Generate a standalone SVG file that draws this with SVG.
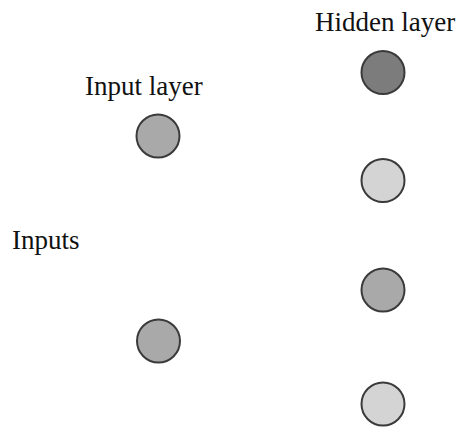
<svg xmlns="http://www.w3.org/2000/svg" width="462" height="428" viewBox="0 0 462 428">
<style>
text{font-family:"Liberation Serif","Times New Roman",serif;font-size:27px;fill:#111}
.n{stroke:#3a3a3a;stroke-width:2}
.dark{fill:#7c7c7c}
.mid{fill:#a9a9a9}
.light{fill:#d4d4d4}
</style>
<rect width="462" height="428" fill="#fff"/>
<g id="labels">
<text x="315" y="31">Hidden layer</text>
<text x="85" y="95">Input layer</text>
<text x="12" y="249">Inputs</text>
</g>
<g id="connectors"></g>
<g id="input1"><circle class="n mid" cx="158" cy="136" r="21.5"/></g>
<g id="input2"><circle class="n mid" cx="158.5" cy="341" r="21.5"/></g>
<g id="hidden1"><circle class="n dark" cx="383" cy="72.5" r="21.5"/></g>
<g id="hidden2"><circle class="n light" cx="383" cy="180.5" r="21.5"/></g>
<g id="hidden3"><circle class="n mid" cx="383" cy="290" r="21.5"/></g>
<g id="hidden4"><circle class="n light" cx="383" cy="404" r="21.5"/></g>
</svg>
